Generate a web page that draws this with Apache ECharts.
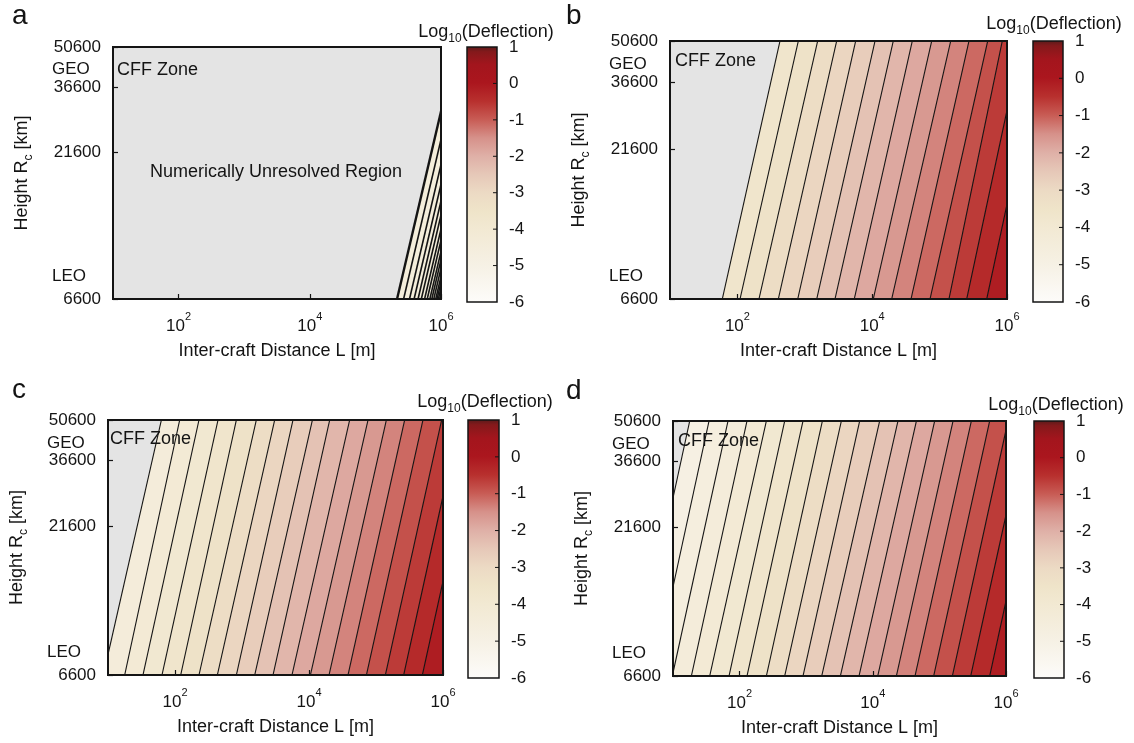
<!DOCTYPE html>
<html><head><meta charset="utf-8">
<script src="https://cdn.jsdelivr.net/npm/echarts@6/dist/echarts.min.js"></script>
<style>html,body{margin:0;padding:0;background:#fff}#main{width:1134px;height:743px}</style>
</head><body><div id="main"></div>
<script>
// ---------------- data ----------------
const panelNames = ['a', 'b', 'c', 'd'];
// contour levels of log10(deflection)
const levels = [-5.0, -4.75, -4.5, -4.25, -4.0, -3.75, -3.5, -3.25, -3.0, -2.75, -2.5, -2.25, -2.0, -1.75, -1.5, -1.25, -1.0, -0.75, -0.5, -0.25];
// log10(L [m]) where each contour line crosses Rc = 6600 km (bottom) and Rc = 50600 km (top)
const aBottom = [5.33, 5.43, 5.52, 5.59, 5.65, 5.70, 5.75, 5.79, 5.83, 5.86, 5.89, 5.92, 5.94, 5.96, 5.98, 5.99];
const aTop    = [6.23, 6.33, 6.42, 6.49, 6.55, 6.60, 6.65, 6.69, 6.73, 6.76, 6.79, 6.82, 6.84, 6.86, 6.88, 6.89];
const bBottom = [1.776, 2.039, 2.320, 2.607, 2.895, 3.177, 3.448, 3.734, 4.016, 4.289, 4.576, 4.858, 5.139, 5.402, 5.699];
const bTop    = [2.632, 2.904, 3.191, 3.473, 3.755, 4.042, 4.313, 4.595, 4.883, 5.165, 5.436, 5.714, 5.93, 6.22, 6.52];
const cBottom = [0.93, 1.249, 1.522, 1.806, 2.085, 2.358, 2.632, 2.916, 3.190, 3.463, 3.746, 4.021, 4.299, 4.582, 4.857, 5.140, 5.413, 5.692];
const cTop    = [1.797, 2.070, 2.358, 2.642, 2.916, 3.214, 3.488, 3.761, 4.051, 4.309, 4.607, 4.881, 5.155, 5.428, 5.701, 5.98, 6.25, 6.53];
const dBottom = [0.42, 0.71, 0.99, 1.276, 1.551, 1.841, 2.111, 2.402, 2.677, 2.952, 3.233, 3.513, 3.793, 4.074, 4.354, 4.634, 4.914, 5.195, 5.470, 5.755];
const dTop    = [1.251, 1.541, 1.826, 2.111, 2.402, 2.677, 2.952, 3.243, 3.528, 3.803, 4.103, 4.378, 4.655, 4.929, 5.205, 5.480, 5.755, 6.03, 6.31, 6.59];
// index in `levels` of the first (boundary) contour of each panel
const firstLevel = [null, 5, 2, 0];
// colour scale (log10 deflection -> colour)
const colorStops = [[-6, '#fdfcfa'], [-5, '#f6f1e5'], [-4, '#f2e9d3'], [-3.5, '#efe4c9'], [-3, '#ecdac4'], [-2.5, '#e6c8b8'], [-2, '#dfb0a7'], [-1.5, '#d6918a'], [-1, '#c85c55'], [-0.5, '#b8302e'], [0, '#ab161e'], [0.5, '#a3151d'], [0.85, '#84191b'], [1, '#581b1b']];
const xTickValues = [100, 10000, 1000000];
const yTickValues = [6600, 21600, 36600, 50600];
const orbitNames = ['LEO', 'GEO'];
const orbitRadii = [7900, 42164];
const cbTicks = [-6, -5, -4, -3, -2, -1, 0, 1];
const cffText = 'CFF Zone';
const unresolvedText = 'Numerically Unresolved Region';

// ---------------- layout / style ----------------
const FONT = '"Liberation Sans", Arial, sans-serif';
const INK = '#141414';
const CFF_GREY = '#e4e4e4';
const A_FILL = '#f4eedb';
const layout = [
  {plot: [113, 47, 328, 252], cb: [467, 47, 30, 255], letter: [12, 16], cff: [117, 70], title: [486, 32]},
  {plot: [670, 41, 337, 258], cb: [1033, 41, 30, 261], letter: [566, 16], cff: [675, 61], title: [1054, 24]},
  {plot: [108, 420, 335, 255], cb: [468, 420, 31, 258], letter: [12, 390], cff: [110, 439], title: [485, 402]},
  {plot: [673, 421, 333, 255], cb: [1034, 421, 30, 257], letter: [566, 391], cff: [678, 441], title: [1056, 405]}
];
const lineSets = [[aBottom, aTop], [bBottom, bTop], [cBottom, cTop], [dBottom, dTop]];
const RC_MIN = 6600, RC_MAX = 50600, L_MIN = 10, L_MAX = 1e6;
const FAR_LEFT = 0.1, FAR_RIGHT = 1e9;
const CB_MIN = cbTicks[0], CB_MAX = cbTicks[cbTicks.length - 1];

function hex2rgb(h) { return [1, 3, 5].map(i => parseInt(h.substr(i, 2), 16)); }
function colorAt(v) {
  if (v <= colorStops[0][0]) return colorStops[0][1];
  for (let i = 1; i < colorStops.length; i++) {
    if (v <= colorStops[i][0]) {
      const [v0, c0] = colorStops[i - 1], [v1, c1] = colorStops[i];
      const t = (v - v0) / (v1 - v0);
      const a = hex2rgb(c0), b = hex2rgb(c1);
      return 'rgb(' + a.map((x, k) => Math.round(x + (b[k] - x) * t)).join(',') + ')';
    }
  }
  return colorStops[colorStops.length - 1][1];
}

const grids = [], xAxes = [], yAxes = [], series = [], graphics = [];

layout.forEach((L, p) => {
  const [pl, pt, pw, ph] = L.plot;
  const [cl, ct, cw, ch] = L.cb;
  const gMain = grids.length;
  grids.push({left: pl, top: pt, width: pw, height: ph, show: true, z: 10, backgroundColor: 'transparent', borderColor: INK, borderWidth: 2});
  const gCb = grids.length;
  grids.push({left: cl, top: ct, width: cw, height: ch, show: false});

  const xMain = xAxes.length;
  xAxes.push({
    type: 'log', logBase: 10, gridIndex: gMain, min: L_MIN, max: L_MAX, z: 12,
    axisLine: {show: false, onZero: false}, splitLine: {show: false},
    axisTick: {inside: true, length: 5, customValues: xTickValues, lineStyle: {color: INK, width: 1.2}},
    axisLabel: {
      customValues: xTickValues, margin: 12, color: INK, fontFamily: FONT,
      formatter: v => '{b|10}{s|' + Math.round(Math.log10(v)) + '}',
      rich: {b: {fontSize: 17, fontFamily: FONT, color: INK, verticalAlign: 'bottom', lineHeight: 24},
             s: {fontSize: 11, fontFamily: FONT, color: INK, verticalAlign: 'top', lineHeight: 12}}
    },
    name: 'Inter-craft Distance L [m]', nameLocation: 'middle', nameGap: 43,
    nameTextStyle: {fontSize: 18, fontFamily: FONT, color: INK}
  });
  const xCb = xAxes.length;
  xAxes.push({type: 'value', gridIndex: gCb, min: 0, max: 1, show: false});

  const yMain = yAxes.length;
  yAxes.push({
    type: 'log', logBase: 10, gridIndex: gMain, min: RC_MIN, max: RC_MAX, position: 'left', z: 12,
    axisLine: {show: false, onZero: false}, splitLine: {show: false},
    axisTick: {inside: true, length: 5, customValues: yTickValues, lineStyle: {color: INK, width: 1.2}},
    axisLabel: {customValues: yTickValues, margin: 12, fontSize: 17, fontFamily: FONT, color: INK,
                formatter: v => String(Math.round(v))},
    name: 'Height R{sub|c} [km]', nameLocation: 'middle', nameGap: 78, nameRotate: 90,
    nameTextStyle: {fontSize: 18, fontFamily: FONT, color: INK, lineHeight: 26,
                    rich: {sub: {fontSize: 12, fontFamily: FONT, color: INK, verticalAlign: 'bottom'}}}
  });
  yAxes.push({
    type: 'log', logBase: 10, gridIndex: gMain, min: RC_MIN, max: RC_MAX, position: 'left', offset: 0,
    axisLine: {show: false, onZero: false}, splitLine: {show: false}, axisTick: {show: false},
    axisLabel: {customValues: orbitRadii, margin: 61, align: 'left', fontSize: 17, fontFamily: FONT, color: INK,
      formatter: v => {
        let best = 0;
        orbitRadii.forEach((r, i) => { if (Math.abs(r - v) < Math.abs(orbitRadii[best] - v)) best = i; });
        return orbitNames[best];
      }}
  });
  const yCb = yAxes.length;
  yAxes.push({
    type: 'value', gridIndex: gCb, min: CB_MIN, max: CB_MAX, interval: 1, position: 'right', z: 12,
    axisLine: {show: false, onZero: false}, splitLine: {show: false}, axisTick: {show: false},
    axisLabel: {margin: 12, fontSize: 17, fontFamily: FONT, color: INK}
  });

  // bands
  const [bot, top] = lineSets[p];
  const xs = [[FAR_LEFT, FAR_LEFT]].concat(bot.map((b, i) => [Math.pow(10, b), Math.pow(10, top[i])])).concat([[FAR_RIGHT, FAR_RIGHT]]);
  const bandData = [];
  for (let r = 0; r <= bot.length; r++) {
    let col;
    if (r === 0) col = CFF_GREY;
    else if (firstLevel[p] === null) col = A_FILL;
    else col = colorAt(levels[firstLevel[p] + r - 1] + 0.125);
    bandData.push({value: [xs[r][0], xs[r][1], xs[r + 1][0], xs[r + 1][1], RC_MIN, RC_MAX], itemStyle: {color: col}});
  }
  series.push({
    type: 'custom', xAxisIndex: xMain, yAxisIndex: yMain, clip: true, z: 2, silent: true,
    encode: {x: [0, 1, 2, 3], y: [4, 5]},
    data: bandData,
    renderItem: (params, api) => {
      const c = api.visual('color');
      const pts = [api.coord([api.value(0), api.value(4)]), api.coord([api.value(1), api.value(5)]),
                   api.coord([api.value(3), api.value(5)]), api.coord([api.value(2), api.value(4)])];
      return {type: 'polygon', shape: {points: pts}, style: {fill: c, stroke: c, lineWidth: 0.6}};
    }
  });
  const lineData = bot.map((b, i) => [Math.pow(10, b), Math.pow(10, top[i]), RC_MIN, RC_MAX]);
  series.push({
    type: 'custom', xAxisIndex: xMain, yAxisIndex: yMain, clip: true, z: 3, silent: true,
    encode: {x: [0, 1], y: [2, 3]},
    data: lineData,
    renderItem: (params, api) => {
      const pts = [api.coord([api.value(0), api.value(2)]), api.coord([api.value(1), api.value(3)])];
      const w = p === 0 ? (params.dataIndex === 0 ? 2.4 : 1.6) : 1.1;
      return {type: 'polyline', shape: {points: pts}, style: {stroke: INK, lineWidth: w, fill: null}};
    }
  });
  // colour bar (gradient + frame + inner ticks on the right edge)
  series.push({
    type: 'custom', xAxisIndex: xCb, yAxisIndex: yCb, z: 2, silent: true,
    encode: {x: [0, 2], y: [1, 3]},
    data: [[0, CB_MIN, 1, CB_MAX]],
    renderItem: (params, api) => {
      const tl = api.coord([api.value(0), api.value(3)]);
      const br = api.coord([api.value(2), api.value(1)]);
      const span = CB_MAX - CB_MIN;
      const children = [{type: 'rect', shape: {x: tl[0], y: tl[1], width: br[0] - tl[0], height: br[1] - tl[1]},
        style: {fill: {type: 'linear', x: 0, y: 1, x2: 0, y2: 0,
          colorStops: colorStops.map(([v, c]) => ({offset: (v - CB_MIN) / span, color: c}))},
          stroke: INK, lineWidth: 1.5}}];
      cbTicks.slice(1, -1).forEach(t => {
        const q = api.coord([1, t]);
        children.push({type: 'line', shape: {x1: q[0] - 4, y1: q[1], x2: q[0], y2: q[1]}, style: {stroke: INK, lineWidth: 1}});
      });
      return {type: 'group', children};
    }
  });

  // texts
  graphics.push({type: 'text', x: L.letter[0], y: L.letter[1], z: 20,
    style: {text: panelNames[p], fontSize: 28, fontFamily: FONT, fill: INK, align: 'left', verticalAlign: 'middle'}});
  graphics.push({type: 'text', x: L.cff[0], y: L.cff[1], z: 20,
    style: {text: cffText, fontSize: 18, fontFamily: FONT, fill: INK, align: 'left', verticalAlign: 'middle'}});
  graphics.push({type: 'text', x: L.title[0], y: L.title[1], z: 20,
    style: {text: 'Log{sub|10}(Deflection)', fontSize: 18, fontFamily: FONT, fill: INK, align: 'center', verticalAlign: 'middle', lineHeight: 26,
      rich: {sub: {fontSize: 12, fontFamily: FONT, fill: INK, verticalAlign: 'bottom'}}}});
});
graphics.push({type: 'text', x: 276, y: 172, z: 20,
  style: {text: unresolvedText, fontSize: 18, fontFamily: FONT, fill: INK, align: 'center', verticalAlign: 'middle'}});

const chart = echarts.init(document.getElementById('main'), null, {renderer: 'canvas'});
chart.setOption({
  animation: false,
  backgroundColor: '#ffffff',
  grid: grids, xAxis: xAxes, yAxis: yAxes, series: series, graphic: graphics
});
</script></body></html>
